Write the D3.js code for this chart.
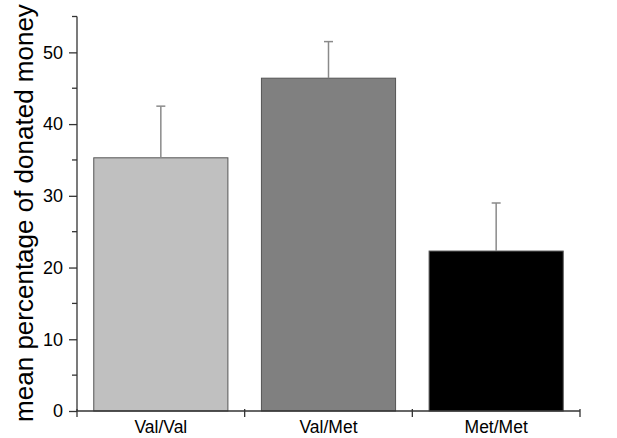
<!DOCTYPE html>
<html>
<head>
<meta charset="utf-8">
<script src="https://cdn.jsdelivr.net/npm/d3@7"></script>
<style>
  body { margin: 0; background: #fff; }
  text { font-family: "Liberation Sans", Arial, sans-serif; fill: #000; }
</style>
</head>
<body>
<div id="chart"></div>
<script>
var categories = ["Val/Val", "Val/Met", "Met/Met"];
var means = [35.3, 46.4, 22.3];
var errors = [7.2, 5.1, 6.7];
var colors = ["#c0c0c0", "#808080", "#000000"];
var majorTicks = [0, 10, 20, 30, 40, 50];
var minorTicks = [5, 15, 25, 35, 45, 55];

var svg = d3.select("#chart")
    .append("svg")
    .attr("width", 617)
    .attr("height", 438);

var x = d3.scaleBand()
    .domain(categories)
    .range([77, 580])
    .paddingInner(0.2)
    .paddingOuter(0.1);

var y = d3.scaleLinear()
    .domain([0, 55])
    .range([411, 16.5]);

// bars
svg.append("g")
    .selectAll("rect")
    .data(categories)
    .enter().append("rect")
    .attr("x", function(d) { return x(d); })
    .attr("y", function(d, i) { return y(means[i]); })
    .attr("width", x.bandwidth())
    .attr("height", function(d, i) { return y(0) - y(means[i]); })
    .attr("fill", function(d, i) { return colors[i]; })
    .attr("stroke", "#555")
    .attr("stroke-width", 1);

// error bars (upper only)
var eg = svg.append("g")
    .attr("stroke", "#8a8a8a")
    .attr("stroke-width", 1.5);
eg.selectAll("line.v")
    .data(categories)
    .enter().append("line")
    .attr("class", "v")
    .attr("x1", function(d) { return x(d) + x.bandwidth() / 2; })
    .attr("x2", function(d) { return x(d) + x.bandwidth() / 2; })
    .attr("y1", function(d, i) { return y(means[i]); })
    .attr("y2", function(d, i) { return y(means[i] + errors[i]); });
eg.selectAll("line.cap")
    .data(categories)
    .enter().append("line")
    .attr("class", "cap")
    .attr("x1", function(d) { return x(d) + x.bandwidth() / 2 - 4.5; })
    .attr("x2", function(d) { return x(d) + x.bandwidth() / 2 + 4.5; })
    .attr("y1", function(d, i) { return y(means[i] + errors[i]); })
    .attr("y2", function(d, i) { return y(means[i] + errors[i]); });

// y axis
var yAxis = svg.append("g")
    .attr("transform", "translate(77,0)")
    .call(d3.axisLeft(y).tickValues(majorTicks).tickSize(8).tickPadding(6));
yAxis.selectAll("text").style("font-size", "18px");
yAxis.append("g")
    .selectAll("line")
    .data(minorTicks)
    .enter().append("line")
    .attr("x1", -5).attr("x2", 0)
    .attr("y1", function(d) { return y(d); })
    .attr("y2", function(d) { return y(d); })
    .attr("stroke", "currentColor");
yAxis.selectAll("path, line").attr("stroke", "#333").attr("stroke-width", 1.3);
yAxis.select(".domain").attr("d", "M0," + y(55) + "V" + y(0));

// x axis
var xAxis = svg.append("g")
    .attr("transform", "translate(0,411)")
    .call(d3.axisBottom(x).tickSize(0).tickPadding(10));
xAxis.selectAll("text").style("font-size", "17.5px");
xAxis.select(".domain").attr("d", "M77,0H580");
xAxis.append("g")
    .selectAll("line")
    .data(d3.range(categories.length + 1))
    .enter().append("line")
    .attr("x1", function(d) { return x.range()[0] + d * x.step(); })
    .attr("x2", function(d) { return x.range()[0] + d * x.step(); })
    .attr("y1", -2).attr("y2", 6)
    .attr("stroke", "currentColor");
xAxis.selectAll("path, line").attr("stroke", "#333").attr("stroke-width", 1.3);

// y label
svg.append("text")
    .attr("transform", "translate(33,213) rotate(-90)")
    .attr("text-anchor", "middle")
    .style("font-size", "26px")
    .text("mean percentage of donated money");
</script>
</body>
</html>
